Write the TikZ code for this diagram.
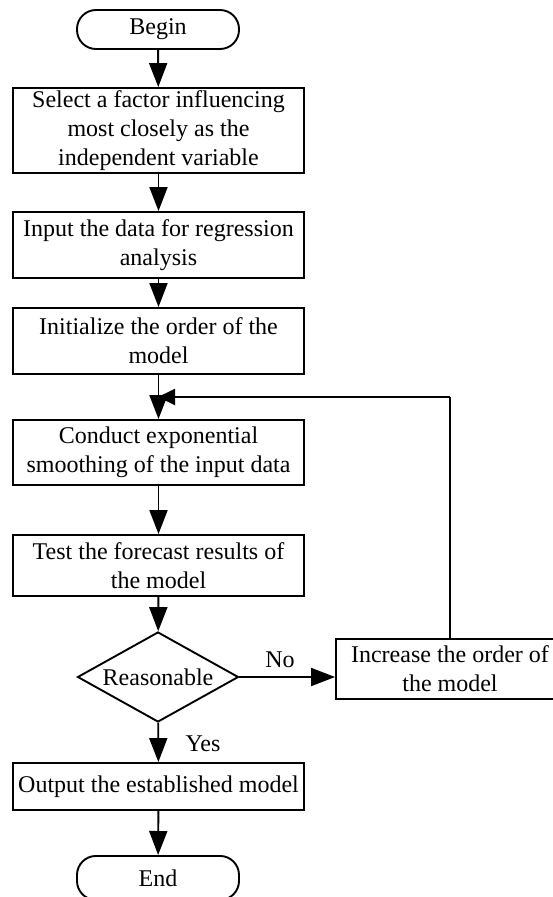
\documentclass[tikz,border=0pt]{standalone}
\usepackage{fontspec}
\setmainfont{Liberation Serif}
\usetikzlibrary{shapes.geometric,arrows.meta}
\begin{document}
\begin{tikzpicture}[x=1pt,y=-1pt,
  every node/.style={font=\fontsize{24}{29}\selectfont},
  procbox/.style={draw, line width=1.9pt, rectangle, align=center, inner sep=0pt, minimum width=291pt},
  termbox/.style={draw, line width=1.9pt, rounded corners=19pt, inner sep=0pt, minimum width=162pt},
  decbox/.style={draw, line width=1.9pt, diamond, inner sep=0pt, aspect=1.79, minimum width=161pt, minimum height=90pt},
  flow/.style={line width=1.9pt, -{Triangle[length=24pt,width=18pt]}},
  plainline/.style={line width=1.9pt}
]
\clip (0,0) rectangle (553,897);
\fill[white] (0,0) rectangle (553,897);

% main column
\node[termbox, minimum height=39pt] (begin) at (158,29.5) {\raisebox{-2pt}{Begin}};
\node[procbox, minimum height=85pt] (sel) at (158.5,130.5)
  {\raisebox{-2pt}{\parbox{280pt}{\centering Select a factor influencing\\most closely as the\\independent variable}}};
\node[procbox, minimum height=66pt] (inp) at (158.5,245)
  {Input the data for regression\\analysis};
\node[procbox, minimum height=66pt] (ini) at (158.5,341)
  {Initialize the order of the\\model};
\node[procbox, minimum height=65pt] (smo) at (158.5,452.5)
  {Conduct exponential\\smoothing of the input data};
\node[procbox, minimum height=61pt] (tst) at (158.5,565.5)
  {Test the forecast results of\\the model};
\node[decbox] (dec) at (158,677) {\raisebox{-2pt}{Reasonable}};
\node[procbox, minimum height=47pt] (out) at (158.5,786.5)
  {Output the established model};
\node[termbox, minimum height=44pt, anchor=north] (end) at (158,855) {\raisebox{-2pt}{End}};

% side branch
\node[procbox, minimum width=228pt, minimum height=60pt] (inc) at (450,669)
  {Increase the order of\\the model};

% loop junction
\coordinate (loopR) at (inc.north |- 0,397);
\coordinate (loopL) at (158,397);

% connectors
\draw[flow] (begin) -- (sel);
\draw[flow] (sel) -- (inp);
\draw[flow] (inp) -- (ini);
\draw[flow] (ini) -- (smo);
\draw[flow] (smo) -- (tst);
\draw[flow] (tst) -- (dec);
\draw[flow] (dec) -- (out);
\draw[flow] (out) -- (end);
\draw[flow] (dec.east) -- (inc.west |- dec.east);
\draw[plainline] (inc.north) -- (loopR);
\draw[line width=1.9pt, -{Triangle[length=17pt,width=16pt]}] (loopR) -- (loopL);

% branch labels
\node (nolbl) at (280,660) {No};
\node (yeslbl) at (203,744) {Yes};
\end{tikzpicture}
\end{document}
